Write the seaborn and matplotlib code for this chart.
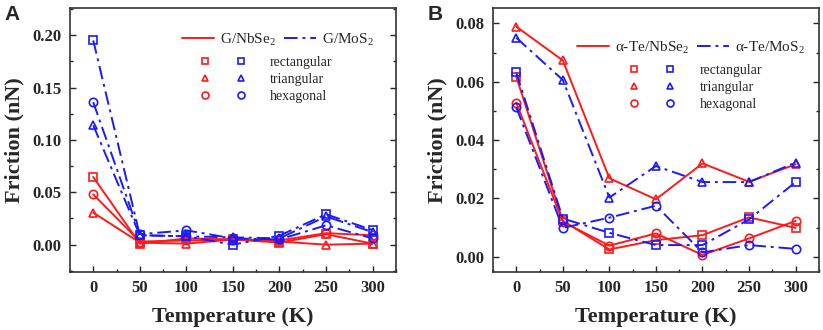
import pandas as pd
import seaborn as sns
import matplotlib.pyplot as plt
from matplotlib.lines import Line2D
from matplotlib.ticker import MultipleLocator

# === DATA ===
temps = [0, 50, 100, 150, 200, 250, 300]
shapes = ["rectangular", "triangular", "hexagonal"]

# panel A: graphene on NbSe2 / MoS2
a_nbse2_rect = [0.0646, 0.001, 0.006, 0.005, 0.002, 0.010, 0.001]
a_nbse2_tri = [0.0306, 0.002, 0.001, 0.005, 0.003, 0.000, 0.001]
a_nbse2_hex = [0.048, 0.003, 0.004, 0.005, 0.004, 0.011, 0.009]
a_mos2_rect = [0.195, 0.009, 0.008, 0.000, 0.0086, 0.029, 0.014]
a_mos2_tri = [0.114, 0.009, 0.008, 0.007, 0.006, 0.027, 0.012]
a_mos2_hex = [0.136, 0.010, 0.0137, 0.006, 0.005, 0.0185, 0.006]

# panel B: alpha-Te on NbSe2 / MoS2
b_nbse2_rect = [0.0617, 0.0123, 0.0025, 0.0057, 0.0074, 0.0135, 0.0099]
b_nbse2_tri = [0.0789, 0.0673, 0.0269, 0.0197, 0.0320, 0.0257, 0.0317]
b_nbse2_hex = [0.0528, 0.0120, 0.0038, 0.0080, 0.0006, 0.0063, 0.0123]
b_mos2_rect = [0.0632, 0.0131, 0.0082, 0.0040, 0.0040, 0.0128, 0.0256]
b_mos2_tri = [0.0751, 0.0606, 0.0203, 0.0311, 0.0256, 0.0256, 0.0323]
b_mos2_hex = [0.0512, 0.0099, 0.0134, 0.0175, 0.0015, 0.0040, 0.0027]

RED = "#ff1a1a"
BLUE = "#1a1aff"
DASHDOT = (0, (7, 2.5, 1.5, 2.5))
MARKERS = {"rectangular": "s", "triangular": "^", "hexagonal": "o"}

sns.set_style("ticks")
plt.rcParams["font.family"] = ["Liberation Serif", "DejaVu Serif"]
plt.rcParams["mathtext.fontset"] = "custom"
plt.rcParams["mathtext.rm"] = "Liberation Serif"
plt.rcParams["xtick.direction"] = "in"
plt.rcParams["ytick.direction"] = "in"


def draw_panel(ax, series, ylim, ymajor, names, letter, leg_pos):
    for substrate, shape, values in series:
        color = RED if substrate == "NbSe2" else BLUE
        ls = "-" if substrate == "NbSe2" else DASHDOT
        df = pd.DataFrame({"T": temps, "F": values})
        sns.lineplot(data=df, x="T", y="F", ax=ax, color=color, linestyle=ls,
                     linewidth=1.4, marker=MARKERS[shape], markersize=6,
                     markerfacecolor="none", markeredgecolor=color,
                     markeredgewidth=1.2, errorbar=None)

    ax.set_xlim(-25, 325)
    ax.set_ylim(*ylim)
    ax.set_xticks(temps)
    ax.xaxis.set_minor_locator(MultipleLocator(25))
    ax.yaxis.set_major_locator(MultipleLocator(ymajor))
    ax.yaxis.set_minor_locator(MultipleLocator(ymajor / 2))
    ax.yaxis.set_major_formatter("{x:.2f}")
    ax.tick_params(which="both", right=True, top=False, width=1.0)
    ax.tick_params(which="major", length=4, labelsize=12, pad=6)
    ax.tick_params(which="minor", length=2)
    for lab in ax.get_xticklabels() + ax.get_yticklabels():
        lab.set_fontweight("bold")
    for sp in ax.spines.values():
        sp.set_linewidth(1.2)
        sp.set_color("#333333")
    ax.set_xlabel("Temperature (K)", fontsize=16, fontweight="bold", labelpad=8)
    ax.set_ylabel("Friction (nN)", fontsize=16, fontweight="bold", labelpad=6)

    # legend: line styles
    line_handles = [Line2D([], [], color=RED, lw=1.4, ls="-"),
                    Line2D([], [], color=BLUE, lw=1.4, ls=DASHDOT)]
    leg1 = ax.legend(line_handles, names, ncol=2, frameon=False, loc="upper right",
                     bbox_to_anchor=leg_pos[0], fontsize=11, handlelength=2.1,
                     columnspacing=0.5, handletextpad=0.4, borderaxespad=0)
    ax.add_artist(leg1)

    # legend: shapes (red column unlabeled, blue column carries the names)
    mk = []
    for color in (RED, BLUE):
        for s in shapes:
            mk.append(Line2D([], [], color=color, ls="none", marker=MARKERS[s],
                             markersize=5, markerfacecolor="none", markeredgewidth=1.2))
    ax.legend(mk, [""] * 3 + shapes, ncol=2, frameon=False, loc="upper right",
              bbox_to_anchor=leg_pos[1], fontsize=10, handlelength=1.0,
              columnspacing=0.0, handletextpad=1.6, labelspacing=0.3,
              borderaxespad=0)

    ax.text(-0.20, 1.01, letter, transform=ax.transAxes, fontsize=15,
            fontweight="bold", family="Liberation Sans", va="top", ha="left")


fig = plt.figure(figsize=(8.23, 3.30), dpi=100)
ax_a = fig.add_axes([0.085, 0.176, 0.396, 0.80])
ax_b = fig.add_axes([0.599, 0.176, 0.396, 0.80])

series_a = [("NbSe2", "rectangular", a_nbse2_rect), ("NbSe2", "triangular", a_nbse2_tri),
            ("NbSe2", "hexagonal", a_nbse2_hex), ("MoS2", "rectangular", a_mos2_rect),
            ("MoS2", "triangular", a_mos2_tri), ("MoS2", "hexagonal", a_mos2_hex)]
series_b = [("NbSe2", "rectangular", b_nbse2_rect), ("NbSe2", "triangular", b_nbse2_tri),
            ("NbSe2", "hexagonal", b_nbse2_hex), ("MoS2", "rectangular", b_mos2_rect),
            ("MoS2", "triangular", b_mos2_tri), ("MoS2", "hexagonal", b_mos2_hex)]

draw_panel(ax_a, series_a, (-0.026, 0.226), 0.05,
           ["G/NbSe$_2$", "G/MoS$_2$"], "A", [(0.95, 0.935), (0.822, 0.84)])
draw_panel(ax_b, series_b, (-0.0052, 0.0853), 0.02,
           ["\u03b1-Te/NbSe$_2$", "\u03b1-Te/MoS$_2$"], "B", [(0.975, 0.905), (0.842, 0.81)])

fig.savefig("out.png", dpi=100)
